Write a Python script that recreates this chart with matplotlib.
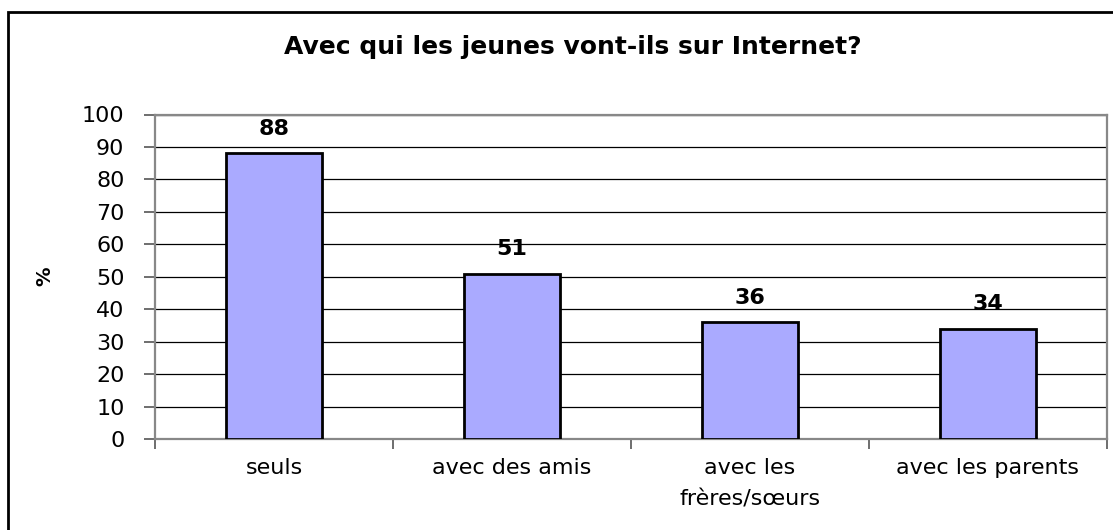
import matplotlib.pyplot as plt
from matplotlib.patches import Rectangle
import numpy as np

# --- data ---
categories = ['seuls', 'avec des amis', 'avec les\nfrères/sœurs', 'avec les parents']
values = [88, 51, 36, 34]
yticks = list(range(0, 101, 10))

title = 'Avec qui les jeunes vont-ils sur Internet?'

plt.rcParams['font.family'] = ['DejaVu Sans']

fig = plt.figure(figsize=(11.13, 5.30), dpi=100)
ax = fig.add_axes([155 / 1113, 1 - 439 / 530, (1107 - 155) / 1113, (439 - 114.5) / 530])

# outer chart frame (right/bottom edges fall outside the picture)
fig.patches.append(Rectangle((8 / 1113, -0.1), 1.2, 1 - 12 / 530 + 0.1,
                             transform=fig.transFigure, fill=False,
                             edgecolor='black', lw=2))

x = np.arange(len(categories))
bars = ax.bar(x, values, width=0.4, color='#AAAAFF', edgecolor='black', lw=2, zorder=3)

for xi, v in zip(x, values):
    ax.text(xi, v + 4.5, str(v), ha='center', va='bottom', fontsize=16, fontweight='bold')

ax.set_ylim(0, 100)
ax.set_xlim(-0.5, len(categories) - 0.5)
ax.set_yticks(yticks)
ax.set_yticklabels([str(t) for t in yticks], fontsize=16)
ax.yaxis.grid(True, color='black', lw=0.9, zorder=0)

ax.set_xticks(x)
ax.set_xticklabels(categories, fontsize=16, linespacing=1.7)
ax.set_xticks(np.arange(-0.5, len(categories)), minor=True)
ax.tick_params(axis='x', which='major', length=0, pad=14)
ax.tick_params(axis='x', which='minor', length=7, width=1.2, color='#555555')
ax.tick_params(axis='y', length=8, width=1.2, color='#555555', pad=14)

for s in ax.spines.values():
    s.set_color('#888888')
    s.set_linewidth(1.6)

ax.set_ylabel('%', fontsize=14, fontweight='bold')
ax.yaxis.set_label_coords((54 - 155) / 952, 0.5)

fig.text(573 / 1113, 1 - 47 / 530, title, ha='center', va='center',
         fontsize=18, fontweight='bold')

fig.savefig('out.png', dpi=100)
